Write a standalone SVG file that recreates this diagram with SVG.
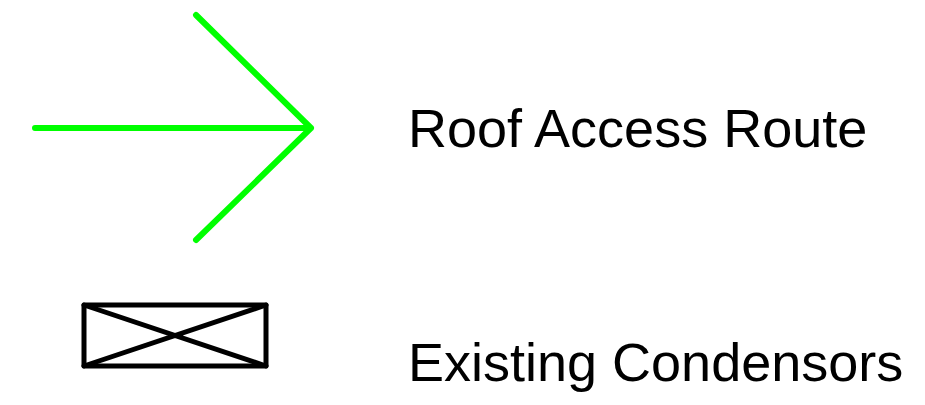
<svg xmlns="http://www.w3.org/2000/svg" width="925" height="405" viewBox="0 0 925 405">
<style>
.lbl{font-family:"Liberation Sans",Arial,sans-serif;font-size:54px;fill:#000}
.arr{fill:none;stroke:#00ff00;stroke-width:6;stroke-linecap:round;stroke-linejoin:round}
.box{fill:none;stroke:#000;stroke-width:5;stroke-linejoin:round;stroke-linecap:round}
</style>
<rect width="925" height="405" fill="#fff"/>
<g id="roof-access-route">
<path class="arr" d="M35,128 H311 M196,15 L311,128 L196,240"/>
<text class="lbl" x="408" y="147">Roof Access Route</text>
</g>
<g id="existing-condensors">
<rect class="box" x="84" y="305" width="182" height="61"/>
<path class="box" d="M84,305 L266,366 M84,366 L266,305"/>
<text class="lbl" x="408" y="381">Existing Condensors</text>
</g>
</svg>
